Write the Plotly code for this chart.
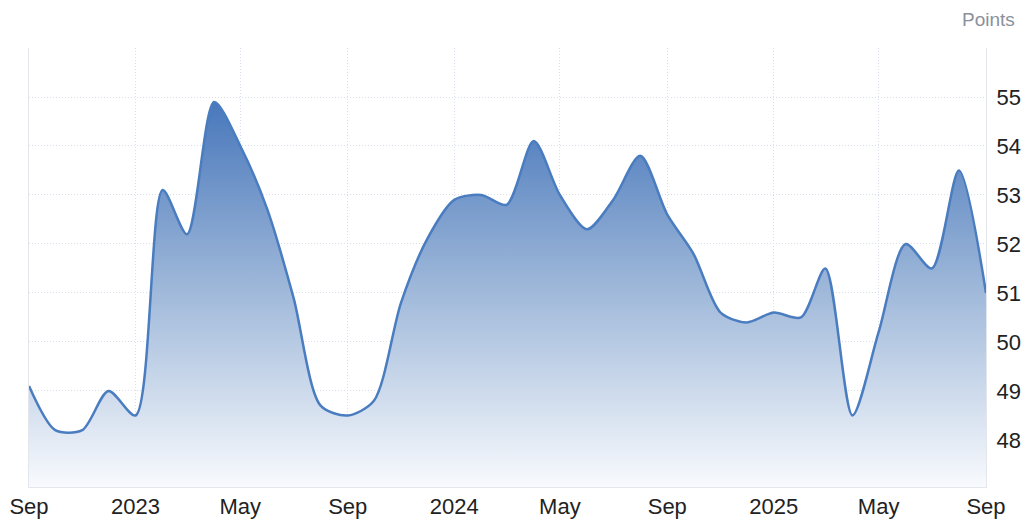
import plotly.graph_objects as go

months = [
    "2022-09-01", "2022-10-01", "2022-11-01", "2022-12-01",
    "2023-01-01", "2023-02-01", "2023-03-01", "2023-04-01", "2023-05-01", "2023-06-01",
    "2023-07-01", "2023-08-01", "2023-09-01", "2023-10-01", "2023-11-01", "2023-12-01",
    "2024-01-01", "2024-02-01", "2024-03-01", "2024-04-01", "2024-05-01", "2024-06-01",
    "2024-07-01", "2024-08-01", "2024-09-01", "2024-10-01", "2024-11-01", "2024-12-01",
    "2025-01-01", "2025-02-01", "2025-03-01", "2025-04-01", "2025-05-01", "2025-06-01",
    "2025-07-01", "2025-08-01", "2025-09-01",
]
points = [
    49.1, 48.2, 48.2, 49.0,
    48.5, 53.1, 52.2, 54.9, 54.0, 52.7,
    50.9, 48.7, 48.5, 48.8, 50.8, 52.1,
    52.9, 53.0, 52.8, 54.1, 53.0, 52.3,
    52.9, 53.8, 52.6, 51.8, 50.6, 50.4,
    50.6, 50.5, 51.5, 48.5, 50.2, 52.0,
    51.5, 53.5, 51.0,
]

x_tickvals = ["2022-09-01", "2023-01-01", "2023-05-01", "2023-09-01", "2024-01-01",
              "2024-05-01", "2024-09-01", "2025-01-01", "2025-05-01", "2025-09-01"]
x_ticktext = ["Sep", "2023", "May", "Sep", "2024", "May", "Sep", "2025", "May", "Sep"]
y_tickvals = [48, 49, 50, 51, 52, 53, 54, 55, 56]
y_ticktext = ["48", "49", "50", "51", "52", "53", "54", "55", ""]

y_min, y_max = 47.04, 56

fig = go.Figure()
fig.add_trace(go.Scatter(
    x=months,
    y=points,
    mode="lines",
    line=dict(color="#4a7cc0", width=2.5, shape="spline", smoothing=0.8),
    fill="tozeroy",
    fillgradient=dict(
        type="vertical",
        start=y_min,
        stop=55,
        colorscale=[[0, "rgba(248,250,253,1)"], [0.5, "rgba(160,185,218,1)"], [1, "rgba(70,118,186,1)"]],
    ),
    hoverinfo="skip",
    showlegend=False,
))

# page body has an 8px margin, so the figure is sized to fit inside the window
grid = "#d9dfea"
fig.update_layout(
    width=1024,
    height=521,
    plot_bgcolor="white",
    paper_bgcolor="white",
    margin=dict(l=21, r=46, t=40, b=42, autoexpand=False),
    font=dict(family="Liberation Sans, Arial", size=22, color="#222222"),
    annotations=[dict(
        text="Points", xref="paper", yref="paper", x=1.0, y=1.0,
        xshift=31, yshift=16, xanchor="right", yanchor="bottom",
        showarrow=False, font=dict(size=19, color="#8a919c"),
    )],
)
fig.update_xaxes(
    range=["2022-09-01", "2025-09-01"],
    tickvals=x_tickvals, ticktext=x_ticktext,
    showgrid=True, gridcolor=grid, griddash="1px,2px", gridwidth=1,
    showline=True, linecolor="#e3e6ec", linewidth=1,
    ticks="", ticklabelstandoff=0, zeroline=False,
)
fig.update_yaxes(
    range=[y_min, y_max], side="right",
    tickvals=y_tickvals, ticktext=y_ticktext,
    showgrid=True, gridcolor=grid, griddash="1px,2px", gridwidth=1,
    showline=True, mirror=True, linecolor="#e3e6ec", linewidth=1,
    ticks="", ticklabelstandoff=5, zeroline=False,
)

fig.write_html("out.html")
